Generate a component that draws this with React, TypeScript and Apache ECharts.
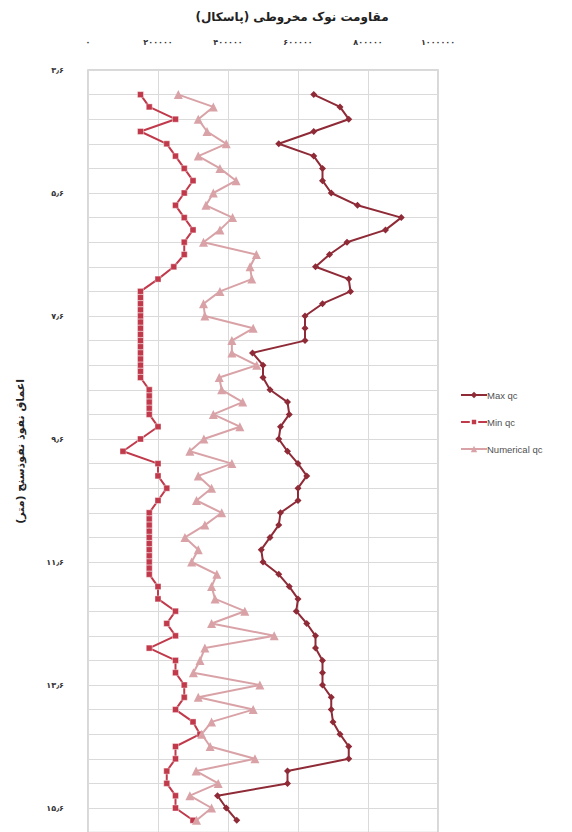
import React, { useEffect, useRef } from "react";
import * as echarts from "echarts";

// Depth (m) of the Max qc and Numerical qc readings
const depths: number[] = [
  4.0, 4.2, 4.4, 4.6, 4.8, 5.0, 5.2, 5.4, 5.6, 5.8,
  6.0, 6.2, 6.4, 6.6, 6.8, 7.0, 7.2, 7.4, 7.6, 7.8,
  8.0, 8.2, 8.4, 8.6, 8.8, 9.0, 9.2, 9.4, 9.6, 9.8,
  10.0, 10.2, 10.4, 10.6, 10.8, 11.0, 11.2, 11.4, 11.6, 11.8,
  12.0, 12.2, 12.4, 12.6, 12.8, 13.0, 13.2, 13.4, 13.6, 13.8,
  14.0, 14.2, 14.4, 14.6, 14.8, 15.0, 15.2, 15.4, 15.6, 15.8,
];

// Cone tip resistance (Pa)
const maxQc: number[] = [
  645000, 720000, 745000, 645000, 545000, 645000, 670000, 670000, 695000, 770000,
  895000, 850000, 740000, 690000, 650000, 745000, 750000, 670000, 620000, 620000,
  620000, 470000, 500000, 500000, 520000, 570000, 575000, 550000, 545000, 570000,
  600000, 625000, 600000, 600000, 550000, 545000, 520000, 495000, 500000, 545000,
  575000, 600000, 595000, 625000, 650000, 650000, 670000, 670000, 670000, 695000,
  695000, 700000, 720000, 745000, 745000, 570000, 570000, 370000, 395000, 425000,
];

const numericalQc: number[] = [
  258000, 358000, 315000, 340000, 395000, 315000, 377000, 423000, 358000, 337000,
  413000, 377000, 330000, 481000, 463000, 468000, 377000, 330000, 334000, 472000,
  411000, 411000, 482000, 375000, 382000, 442000, 358000, 434000, 331000, 291000,
  411000, 315000, 353000, 310000, 382000, 334000, 277000, 315000, 296000, 368000,
  353000, 363000, 448000, 353000, 532000, 334000, 320000, 301000, 491000, 315000,
  472000, 353000, 325000, 349000, 477000, 309000, 372000, 291000, 353000, 310000,
];

// Min qc is sampled more densely where it stays constant
const minDepths: number[] = [
  4.0, 4.2, 4.4, 4.6, 4.8, 5.0, 5.2, 5.4, 5.6, 5.8,
  6.0, 6.2, 6.4, 6.6, 6.8, 7.0,
  7.2, 7.3, 7.4, 7.5, 7.6, 7.7, 7.8, 7.9, 8.0, 8.1, 8.2, 8.3, 8.4, 8.5, 8.6,
  8.8, 8.9, 9.0, 9.1, 9.2,
  9.4, 9.6, 9.8, 10.0, 10.2, 10.4, 10.6,
  10.8, 10.9, 11.0, 11.1, 11.2, 11.3, 11.4, 11.5, 11.6, 11.7, 11.8,
  12.0, 12.2, 12.4, 12.6, 12.8, 13.0, 13.2, 13.4, 13.6, 13.8,
  14.0, 14.2, 14.4, 14.6, 14.8, 15.0, 15.2, 15.4, 15.6, 15.8,
];

const minQc: number[] = [
  150000, 175000, 250000, 150000, 225000, 250000, 275000, 300000, 275000, 250000,
  275000, 300000, 275000, 275000, 245000, 200000,
  150000, 150000, 150000, 150000, 150000, 150000, 150000, 150000, 150000, 150000, 150000, 150000, 150000, 150000, 150000,
  175000, 175000, 175000, 175000, 175000,
  200000, 150000, 100000, 200000, 200000, 225000, 200000,
  175000, 175000, 175000, 175000, 175000, 175000, 175000, 175000, 175000, 175000, 175000,
  200000, 200000, 250000, 225000, 250000, 175000, 250000, 250000, 275000, 275000,
  250000, 300000, 320000, 250000, 250000, 225000, 225000, 250000, 250000, 300000,
];

const seriesNames = ["Max qc", "Min qc", "Numerical qc"];
const titleText = "مقاومت نوک مخروطی (پاسکال)";
const depthAxisName = "اعماق نفوذ نفوذسنج (متر)";

const faDigits = "۰۱۲۳۴۵۶۷۸۹";
const toFa = (s: string) => s.replace(/\d/g, (d) => faDigits[Number(d)]);

const pairs = (xs: number[], ys: number[]) => xs.map((x, i) => [x, ys[i]]);

export default function App() {
  const ref = useRef<HTMLDivElement>(null);

  useEffect(() => {
    if (!ref.current) return;
    const chart = echarts.init(ref.current, null, { renderer: "svg" });
    const faFont = "DejaVu Sans";
    chart.setOption({
      animation: false,
      backgroundColor: "#ffffff",
      title: {
        text: titleText,
        left: 287,
        top: 6,
        textAlign: "center",
        textStyle: { fontFamily: faFont, fontSize: 12, fontWeight: "bold", color: "#222" },
      },
      legend: {
        orient: "vertical",
        left: 455,
        top: 385,
        itemWidth: 26,
        itemHeight: 8,
        itemGap: 17,
        data: seriesNames,
        textStyle: { fontFamily: "Liberation Sans", fontSize: 9.5, color: "#505050", padding: [0, 0, 0, -5] },
      },
      grid: {
        left: 88,
        top: 70,
        width: 350,
        height: 762.6,
        show: true,
        borderColor: "#cccccc",
        borderWidth: 1.5,
        backgroundColor: "transparent",
      },
      xAxis: {
        type: "value",
        position: "top",
        min: 0,
        max: 1000000,
        interval: 200000,
        axisLine: { show: false },
        axisTick: { show: false },
        splitLine: { show: true, lineStyle: { color: "#dadada", width: 1 } },
        axisLabel: {
          margin: 24,
          fontFamily: faFont,
          fontSize: 8,
          fontWeight: "bold",
          color: "#333",
          formatter: (v: number) => toFa(String(v)),
        },
      },
      yAxis: {
        type: "value",
        inverse: true,
        min: 3.6,
        max: 16.0,
        interval: 0.4,
        name: depthAxisName,
        nameLocation: "middle",
        nameGap: 62,
        nameTextStyle: { fontFamily: faFont, fontSize: 11, fontWeight: "bold", color: "#222" },
        axisLine: { show: false },
        axisTick: { show: false },
        splitLine: { show: true, lineStyle: { color: "#dadada", width: 1 } },
        axisLabel: {
          margin: 24,
          fontFamily: faFont,
          fontSize: 8,
          fontWeight: "bold",
          color: "#333",
          formatter: (v: number) => {
            const k = Math.round((v - 3.6) / 0.4);
            if (k % 5 !== 0) return "";
            return toFa(v.toFixed(1)).replace(".", "٫");
          },
        },
      },
      series: [
        {
          name: seriesNames[0],
          type: "line",
          data: pairs(maxQc, depths),
          symbol: "diamond",
          symbolSize: 7,
          itemStyle: { color: "#8f2a37" },
          lineStyle: { color: "#8f2a37", width: 2 },
        },
        {
          name: seriesNames[1],
          type: "line",
          data: pairs(minQc, minDepths),
          symbol: "rect",
          symbolSize: 6,
          itemStyle: { color: "#c03a4b", borderColor: "#ffffff", borderWidth: 0.4 },
          lineStyle: { color: "#c03a4b", width: 2 },
        },
        {
          name: seriesNames[2],
          type: "line",
          data: pairs(numericalQc, depths),
          symbol: "triangle",
          symbolSize: 9,
          itemStyle: { color: "#d9a2a7" },
          lineStyle: { color: "#d9a2a7", width: 2 },
        },
      ],
    });
    return () => chart.dispose();
  }, []);

  return (
    <div
      ref={ref}
      style={{ position: "fixed", left: 0, top: 0, width: 572, height: 840 }}
    />
  );
}
